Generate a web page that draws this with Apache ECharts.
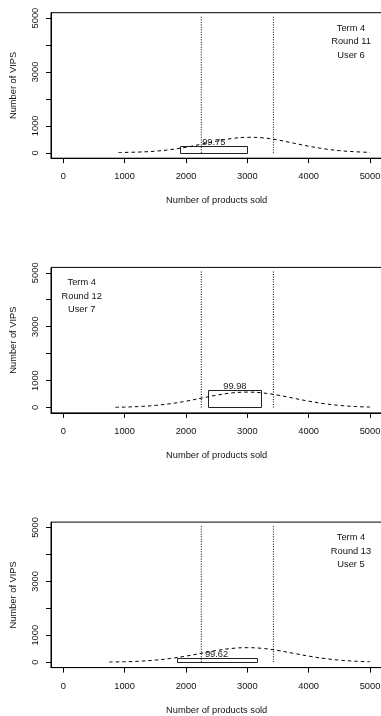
<!DOCTYPE html>
<html><head><meta charset="utf-8">
<script src="https://cdn.jsdelivr.net/npm/echarts@6/dist/echarts.min.js"></script>
<style>html,body{margin:0;padding:0;background:#fff;overflow:hidden}#c{width:400px;height:716px}</style>
</head><body><div id="c"></div>
<script>
// ---- data ----
const panelText = [
  ['Term 4', 'Round 11', 'User 6'],
  ['Term 4', 'Round 12', 'User 7'],
  ['Term 4', 'Round 13', 'User 5']
];
const xTicks = [0, 1000, 2000, 3000, 4000, 5000];
const yTicks = [0, 1000, 2000, 3000, 4000, 5000];
const yTickLabels = [0, 1000, 3000, 5000];
const refLinesX = [2250, 3425];
const refLineRange = [0, 5050];
const boxStart = [1908, 2365, 1849];
const boxEnd = [3000, 3228, 3147];
const boxHeight = [246, 647, 160];
const boxLabel = ['99.75', '99.98', '99.62'];
const curve1X = [900, 1250, 1500, 1750, 2000, 2250, 2500, 2750, 3000, 3250, 3500, 3750, 4000, 4250, 4500, 4750, 5000];
const curve1Y = [10, 30, 60, 120, 205, 320, 435, 530, 575, 555, 475, 360, 245, 150, 80, 40, 15];
const curve2X = [850, 1000, 1250, 1500, 1750, 2000, 2250, 2500, 2750, 3000, 3250, 3500, 3750, 4000, 4250, 4500, 4750, 5000];
const curve2Y = [9, 16, 38, 77, 143, 235, 347, 458, 541, 572, 541, 458, 347, 235, 143, 77, 38, 16];
const curve3X = [750, 1000, 1250, 1500, 1750, 2000, 2250, 2500, 2750, 3000, 3250, 3500, 3750, 4000, 4250, 4500, 4750, 5000];
const curve3Y = [7, 17, 38, 77, 140, 227, 332, 435, 512, 540, 512, 435, 332, 227, 140, 77, 38, 17];
const curvesX = [curve1X, curve2X, curve3X];
const curvesY = [curve1Y, curve2Y, curve3Y];

// ---- layout ----
const FONT = '"Liberation Sans", Arial, Helvetica, sans-serif';
const FS = 9.3;
const TXT = '#111';
const panelTop = i => 12.7 + 254.7 * i;
const textCenterX = [351, 81.7, 351];

const grids = [], xAxes = [], yAxes = [], series = [], graphics = [];
for (let i = 0; i < 3; i++) {
  grids.push({left: 51, top: panelTop(i), width: 331.3, height: 145.5, show: true,
    borderColor: '#000', borderWidth: 1, backgroundColor: 'transparent'});
  xAxes.push({type: 'value', gridIndex: i, min: -200, max: 5200,
    name: 'Number of products sold', nameLocation: 'middle', nameGap: 38,
    nameTextStyle: {fontFamily: FONT, fontSize: FS, color: TXT},
    axisLine: {show: true, onZero: false, lineStyle: {color: '#000', width: 1}},
    axisTick: {show: true, length: 5, customValues: xTicks, lineStyle: {color: '#000'}},
    axisLabel: {customValues: xTicks, margin: 14, color: TXT, fontSize: FS, fontFamily: FONT,
      formatter: v => String(v)},
    splitLine: {show: false}});
  yAxes.push({type: 'value', gridIndex: i, min: -200, max: 5200,
    name: 'Number of VIPS', nameLocation: 'middle', nameGap: 33,
    nameTextStyle: {fontFamily: FONT, fontSize: FS, color: TXT},
    axisLine: {show: true, onZero: false, lineStyle: {color: '#000', width: 1}},
    axisTick: {show: true, length: 5, customValues: yTicks, lineStyle: {color: '#000'}},
    axisLabel: {customValues: yTickLabels, rotate: 90, margin: 11, color: TXT, fontSize: FS, fontFamily: FONT,
      formatter: v => String(v)},
    splitLine: {show: false}});

  // density curve
  series.push({type: 'line', xAxisIndex: i, yAxisIndex: i, smooth: 0.4, showSymbol: false,
    data: curvesX[i].map((x, k) => [x, curvesY[i][k]]),
    lineStyle: {color: '#000', width: 1, type: [3.5, 3]}, silent: true});
  // reference lines
  refLinesX.forEach(x => {
    series.push({type: 'line', xAxisIndex: i, yAxisIndex: i, showSymbol: false,
      data: [[x, refLineRange[0]], [x, refLineRange[1]]],
      lineStyle: {color: '#000', width: 1, type: [1, 1.5]}, silent: true});
  });
  // box
  const lbl = boxLabel[i];
  series.push({type: 'custom', xAxisIndex: i, yAxisIndex: i,
    encode: {x: [0, 1], y: 2},
    data: [[boxStart[i], boxEnd[i], boxHeight[i]]],
    renderItem: (params, api) => {
      const p0 = api.coord([api.value(0), 0]);
      const p1 = api.coord([api.value(1), api.value(2)]);
      return {type: 'group', children: [
        {type: 'rect', shape: {x: Math.round(p0[0]) + 0.5, y: Math.round(p1[1]) + 0.5,
          width: Math.round(p1[0] - p0[0]), height: Math.round(p0[1] - p1[1])},
          style: {fill: 'none', stroke: '#222', lineWidth: 1}},
        {type: 'text', x: (p0[0] + p1[0]) / 2, y: p1[1] + 1,
          style: {text: lbl, textAlign: 'center', textVerticalAlign: 'bottom',
            font: FS + 'px ' + FONT, fill: '#222'}}
      ]};
    }});

  panelText[i].forEach((t, k) => {
    graphics.push({type: 'text', x: textCenterX[i], y: panelTop(i) + 15.5 + 13.4 * k,
      style: {text: t, textAlign: 'center', textVerticalAlign: 'middle',
        font: FS + 'px ' + FONT, fill: TXT}});
  });
}

const chart = echarts.init(document.getElementById('c'));
chart.setOption({
  animation: false,
  backgroundColor: '#fff',
  grid: grids, xAxis: xAxes, yAxis: yAxes, series: series, graphic: graphics
});
</script></body></html>
